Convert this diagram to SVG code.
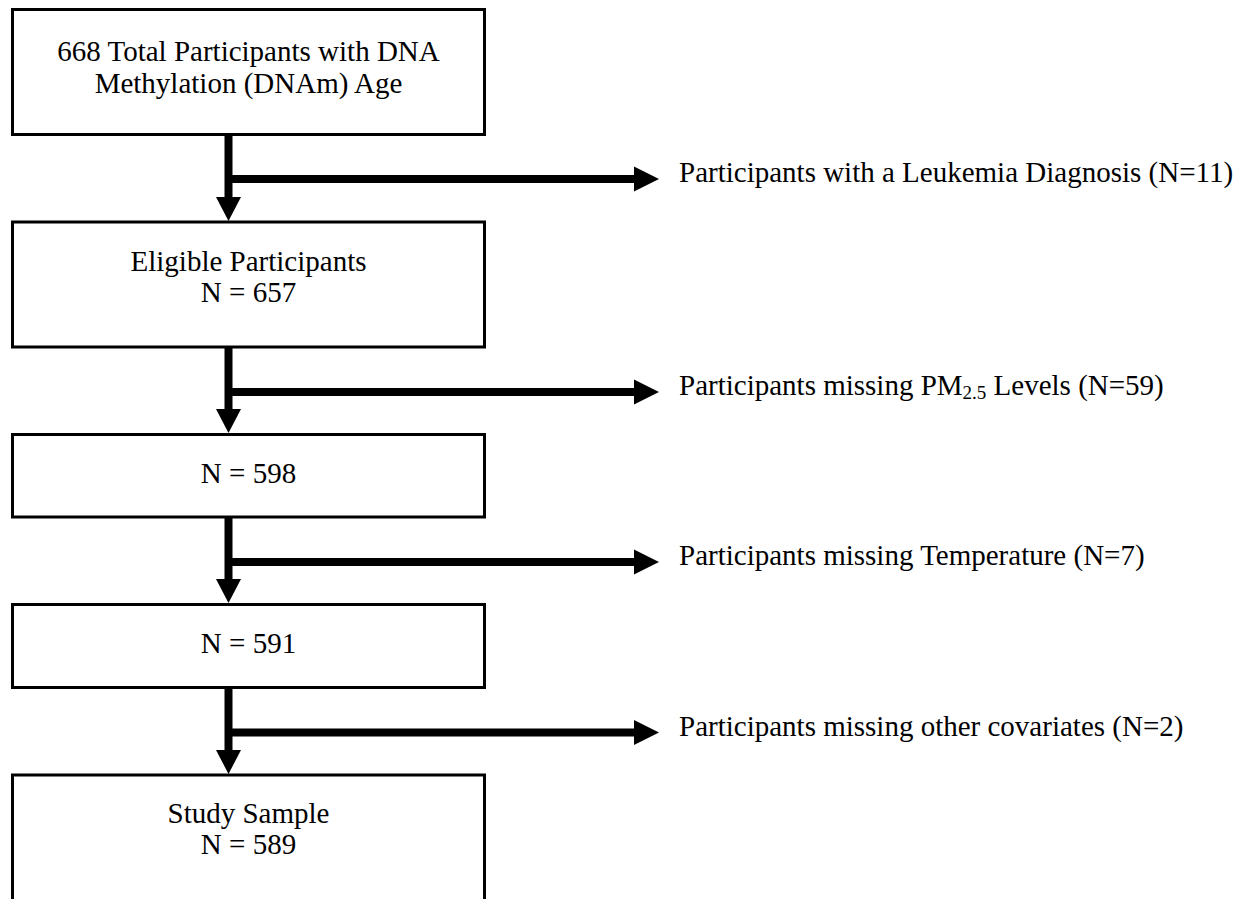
<svg xmlns="http://www.w3.org/2000/svg" width="1251" height="899" viewBox="0 0 1251 899">
<style>
.box{fill:#fff;stroke:#000;stroke-width:3}
.t{font-family:"Liberation Serif","Times New Roman",serif;font-size:29px;fill:#000}
.c{text-anchor:middle}
.ln{stroke:#000;stroke-width:8;fill:none}
.ah{fill:#000}
</style>
<rect width="1251" height="899" fill="#fff"/>
<g id="connectors">
<path class="ln" d="M228.5,136 V199 M228.5,179 H635"/>
<polygon class="ah" points="216,197 241,197 228.5,221"/>
<polygon class="ah" points="634,166.5 659,179 634,191.5"/>
<path class="ln" d="M228.5,348 V410 M228.5,392 H635"/>
<polygon class="ah" points="216,409 241,409 228.5,433"/>
<polygon class="ah" points="634,379.5 659,392 634,404.5"/>
<path class="ln" d="M228.5,518 V580 M228.5,562 H635"/>
<polygon class="ah" points="216,579 241,579 228.5,603"/>
<polygon class="ah" points="634,549.5 659,562 634,574.5"/>
<path class="ln" d="M228.5,689 V751 M228.5,732.5 H635"/>
<polygon class="ah" points="216,750 241,750 228.5,774"/>
<polygon class="ah" points="634,720 659,732.5 634,745"/>
</g>
<g id="node1">
<rect class="box" x="12.5" y="9.5" width="472" height="125"/>
<text class="t c" x="248.5" y="61">668 Total Participants with DNA</text>
<text class="t c" x="248.5" y="93">Methylation (DNAm) Age</text>
</g>
<g id="node2">
<rect class="box" x="12.5" y="222" width="472" height="125"/>
<text class="t c" x="248.5" y="271">Eligible Participants</text>
<text class="t c" x="248.5" y="302">N = 657</text>
</g>
<g id="node3">
<rect class="box" x="12.5" y="434.5" width="472" height="82.5"/>
<text class="t c" x="248.5" y="483">N = 598</text>
</g>
<g id="node4">
<rect class="box" x="12.5" y="604.5" width="472" height="83"/>
<text class="t c" x="248.5" y="653">N = 591</text>
</g>
<g id="node5">
<rect class="box" x="12.5" y="775" width="472" height="140"/>
<text class="t c" x="248.5" y="823">Study Sample</text>
<text class="t c" x="248.5" y="854">N = 589</text>
</g>
<g id="label1"><text class="t" x="679" y="182">Participants with a Leukemia Diagnosis (N=11)</text></g>
<g id="label2"><text class="t" x="679" y="395">Participants missing PM<tspan font-size="19" dy="4">2.5</tspan><tspan dy="-4"> Levels (N=59)</tspan></text></g>
<g id="label3"><text class="t" x="679" y="565">Participants missing Temperature (N=7)</text></g>
<g id="label4"><text class="t" x="679" y="736">Participants missing other covariates (N=2)</text></g>
</svg>
